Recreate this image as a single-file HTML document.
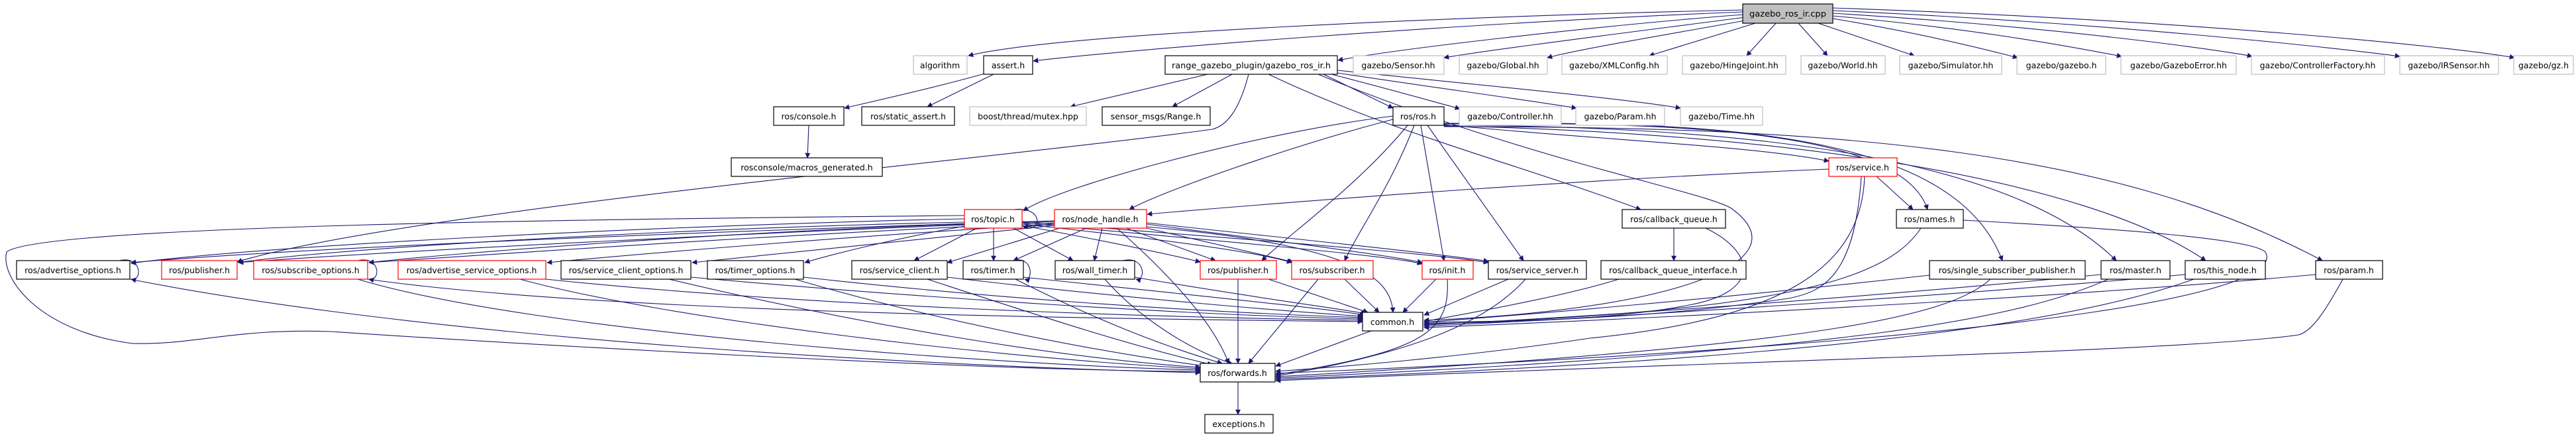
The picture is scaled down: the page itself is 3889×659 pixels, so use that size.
<!DOCTYPE html>
<html><head><meta charset="utf-8"><style>
html,body{margin:0;padding:0;background:#fff;}
svg{display:block;}
text{font-family:"DejaVu Sans","Liberation Sans",sans-serif;font-size:12.5px;fill:#000;}
.e{fill:none;stroke:#191970;stroke-width:1.1;marker-end:url(#a);}
.l{fill:none;stroke:#191970;stroke-width:1.1;}
.k{fill:#fff;stroke:#000;stroke-width:1.2;}
.r{fill:#fff;stroke:#ff0000;stroke-width:1.2;}
.g{fill:#fff;stroke:#bfbfbf;stroke-width:1.2;}
.c{fill:#bfbfbf;stroke:#000;stroke-width:1.2;}
</style></head><body>
<svg width="3889" height="659" viewBox="0 0 3889 659" xmlns="http://www.w3.org/2000/svg">
<defs><marker id="a" viewBox="0 0 10 10" refX="9" refY="5" markerWidth="10" markerHeight="8" markerUnits="userSpaceOnUse" orient="auto"><path d="M0,0 L10,5 L0,10 z" fill="#191970"/></marker></defs>

<path class="e" d="M2631,15 C2200,25 1600,50 1462,84"/>
<path class="e" d="M2631,18 C2200,35 1700,75 1560,92"/>
<path class="e" d="M2631,22 C2400,40 2100,75 2020,91"/>
<path class="e" d="M2635,26 C2450,50 2250,75 2180,87"/>
<path class="e" d="M2640,30 C2500,55 2380,75 2336,87"/>
<path class="e" d="M2650,35 L2490,84"/>
<path class="e" d="M2681,35 L2637,84"/>
<path class="e" d="M2715,35 L2759,84"/>
<path class="e" d="M2745,35 L2890,84"/>
<path class="e" d="M2767,28 C2900,50 3000,75 3046,87"/>
<path class="e" d="M2767,24 C3000,45 3150,75 3203,85"/>
<path class="e" d="M2767,20 C3100,40 3350,75 3400,85"/>
<path class="e" d="M2767,16 C3200,35 3550,75 3623,85"/>
<path class="e" d="M2767,12 C3300,30 3700,70 3796,87"/>

<path class="e" d="M1490,110 C1420,130 1330,150 1275,163"/>
<path class="e" d="M1500,112 L1400,161"/>
<path class="e" d="M1221,189 L1219,238"/>

<path class="e" d="M1823,112 L1616,161"/>
<path class="e" d="M1860,112 L1770,161"/>
<path class="e" d="M1998,112 L2103,163"/>
<path class="e" d="M2010,112 C2100,135 2170,155 2204,164"/>
<path class="e" d="M2019,110 C2150,130 2300,150 2380,163"/>
<path class="e" d="M2019,106 C2200,125 2450,148 2537,163"/>
<path class="e" d="M1885,112 C1870,170 1850,190 1830,195 C1500,240 600,320 358,395"/>
<path class="e" d="M1915,112 C2100,200 2300,250 2477,316"/>
<path class="e" d="M1990,112 C2300,240 2580,290 2615,315 C2730,400 2500,470 2150,483"/>

<path class="e" d="M2103,175 C1900,200 1600,280 1545,318"/>
<path class="e" d="M2103,180 C1950,220 1750,290 1705,316"/>
<path class="e" d="M2125,189 C2050,280 1950,350 1905,393"/>
<path class="e" d="M2135,189 C2100,280 2050,350 2030,393"/>
<path class="e" d="M2145,189 L2180,393"/>
<path class="e" d="M2155,189 L2300,393"/>
<path class="e" d="M2180,188 C2400,210 2650,220 2761,243"/>
<path class="e" d="M2180,186 C2500,185 2870,190 2910,316"/>
<path class="e" d="M2180,187 C2600,180 2950,200 3023,393"/>
<path class="e" d="M2180,189 C2700,190 3050,250 3195,393"/>
<path class="e" d="M2180,190 C2700,200 3150,270 3330,393"/>
<path class="e" d="M2180,191 C2800,190 3200,230 3506,393"/>

<path class="e" d="M2761,255 C2400,270 2000,300 1732,323"/>
<path class="e" d="M2833,266 L2888,316"/>
<path class="e" d="M2810,266 C2800,420 2750,440 2700,450 C2500,480 2300,485 2150,486"/>
<path class="e" d="M2815,266 C2810,400 2700,480 2400,510 C2200,540 2000,555 1926,560"/>

<path class="e" d="M2900,344 C2850,420 2700,470 2150,489"/>
<path class="e" d="M2964,332 C3200,345 3400,360 3420,380 C3450,430 3200,510 1926,563"/>

<path class="e" d="M2527,344 L2527,393"/>
<path class="e" d="M2575,344 C2650,380 2660,440 2550,460 C2450,480 2300,486 2150,488"/>
<path class="e" d="M2444,421 C2350,450 2200,475 2150,485"/>

<path class="l" d="M1530,316 C1575,310 1575,352 1545,343"/>
<path class="e" d="M1456,330 C1000,340 400,370 198,397"/>
<path class="e" d="M1456,335 C1000,345 500,375 360,396"/>
<path class="e" d="M1456,338 C1100,350 700,380 557,396"/>
<path class="e" d="M1456,341 C1350,360 1250,385 1215,396"/>
<path class="e" d="M1475,344 L1380,393"/>
<path class="e" d="M1500,344 L1500,393"/>
<path class="e" d="M1530,344 L1620,393"/>
<path class="e" d="M1543,340 C1650,360 1750,380 1812,395"/>
<path class="e" d="M1543,338 C1750,360 1900,380 1950,396"/>
<path class="e" d="M1543,336 C1800,360 2100,385 2147,398"/>
<path class="e" d="M1543,334 C1800,355 2150,380 2247,396"/>
<path class="e" d="M1456,325 C900,330 60,340 10,380 C0,420 60,500 200,518 C300,520 350,495 500,500 C800,520 1500,560 1812,560"/>

<path class="e" d="M1592,338 L1545,342"/>
<path class="e" d="M1592,333 C1200,345 500,370 198,396"/>
<path class="e" d="M1592,334 C1200,348 600,378 360,396"/>
<path class="e" d="M1592,336 C1200,352 800,380 557,396"/>
<path class="e" d="M1592,338 C1300,355 1000,380 826,396"/>
<path class="e" d="M1592,340 C1400,360 1200,380 1045,396"/>
<path class="e" d="M1600,344 L1430,396"/>
<path class="e" d="M1640,344 L1530,393"/>
<path class="e" d="M1664,344 L1652,393"/>
<path class="e" d="M1700,344 L1835,393"/>
<path class="e" d="M1731,344 L1952,395"/>
<path class="e" d="M1731,338 C1900,360 2100,385 2147,396"/>
<path class="e" d="M1731,336 C1950,360 2150,380 2247,394"/>
<path class="e" d="M1731,342 C2050,370 2100,420 2103,471"/>
<path class="e" d="M1686,344 C1750,400 1830,480 1855,548"/>

<path class="e" d="M180,393 C215,385 215,425 198,421"/>
<path class="e" d="M540,393 C575,385 575,425 557,421"/>
<path class="e" d="M1530,393 C1560,385 1560,425 1547,421"/>
<path class="e" d="M1695,393 C1730,385 1730,425 1715,421"/>

<path class="e" d="M196,421 C700,520 1500,555 1812,562"/>
<path class="e" d="M555,421 C900,470 1600,480 2057,485"/>
<path class="e" d="M540,421 C800,500 1500,550 1812,558"/>
<path class="e" d="M824,421 C1200,460 1700,478 2057,483"/>
<path class="e" d="M785,421 C1000,480 1500,540 1812,556"/>
<path class="e" d="M1043,418 C1400,450 1800,475 2057,481"/>
<path class="e" d="M1010,421 C1300,490 1600,540 1812,554"/>
<path class="e" d="M1213,418 C1500,450 1800,470 2057,479"/>
<path class="e" d="M1200,421 C1400,480 1650,530 1820,552"/>
<path class="e" d="M1430,418 C1700,450 1950,470 2057,477"/>
<path class="e" d="M1400,421 C1550,470 1700,520 1830,550"/>
<path class="e" d="M1545,418 C1800,445 2000,465 2060,475"/>
<path class="e" d="M1533,421 C1650,480 1750,520 1845,548"/>
<path class="e" d="M1713,418 C1900,450 2020,465 2062,473"/>
<path class="e" d="M1668,421 C1720,480 1800,530 1860,548"/>
<path class="e" d="M1915,421 L2065,471"/>
<path class="e" d="M1869,421 L1869,548"/>
<path class="e" d="M2030,421 L2082,471"/>
<path class="e" d="M1990,421 L1885,548"/>
<path class="e" d="M2168,421 L2118,471"/>
<path class="e" d="M2185,421 C2190,500 2150,530 1926,565"/>
<path class="e" d="M2277,421 L2150,475"/>
<path class="e" d="M2303,421 C2250,480 2150,530 1926,567"/>
<path class="e" d="M2913,415 C2600,450 2300,475 2150,486"/>
<path class="e" d="M3005,421 C2950,470 2800,520 1926,568"/>
<path class="e" d="M3172,414 C2800,450 2400,478 2150,490"/>
<path class="e" d="M3183,421 C3050,480 2800,530 1926,570"/>
<path class="e" d="M3299,414 C2900,450 2400,480 2150,492"/>
<path class="e" d="M3312,421 C3150,480 2800,540 1926,572"/>
<path class="e" d="M3496,414 C3100,450 2500,480 2150,494"/>
<path class="e" d="M3537,421 C3510,470 3490,500 3470,505 C3300,530 2600,545 1926,574"/>

<path class="e" d="M2070,499 L1926,552"/>
<path class="e" d="M1869,576 L1869,625"/>

<g>
<rect class="c" x="2631" y="6" width="136" height="29"/><text x="2699" y="25" text-anchor="middle" textLength="116" lengthAdjust="spacingAndGlyphs">gazebo_ros_ir.cpp</text>

<rect class="g" x="1379" y="84" width="81" height="28"/><text x="1419" y="103" text-anchor="middle">algorithm</text>
<rect class="k" x="1485" y="84" width="74" height="28"/><text x="1522" y="103" text-anchor="middle">assert.h</text>
<rect class="k" x="1759" y="84" width="260" height="28"/><text x="1889" y="103" text-anchor="middle" textLength="240" lengthAdjust="spacingAndGlyphs">range_gazebo_plugin/gazebo_ros_ir.h</text>
<rect class="g" x="2043" y="84" width="137" height="28"/><text x="2111" y="103" text-anchor="middle">gazebo/Sensor.hh</text>
<rect class="g" x="2203" y="84" width="133" height="28"/><text x="2269" y="103" text-anchor="middle">gazebo/Global.hh</text>
<rect class="g" x="2358" y="84" width="159" height="28"/><text x="2437" y="103" text-anchor="middle">gazebo/XMLConfig.hh</text>
<rect class="g" x="2540" y="84" width="156" height="28"/><text x="2618" y="103" text-anchor="middle">gazebo/HingeJoint.hh</text>
<rect class="g" x="2719" y="84" width="127" height="28"/><text x="2782" y="103" text-anchor="middle">gazebo/World.hh</text>
<rect class="g" x="2868" y="84" width="154" height="28"/><text x="2945" y="103" text-anchor="middle">gazebo/Simulator.hh</text>
<rect class="g" x="3045" y="84" width="134" height="28"/><text x="3112" y="103" text-anchor="middle">gazebo/gazebo.h</text>
<rect class="g" x="3202" y="84" width="174" height="28"/><text x="3289" y="103" text-anchor="middle">gazebo/GazeboError.hh</text>
<rect class="g" x="3399" y="84" width="201" height="28"/><text x="3499" y="103" text-anchor="middle">gazebo/ControllerFactory.hh</text>
<rect class="g" x="3623" y="84" width="149" height="28"/><text x="3697" y="103" text-anchor="middle">gazebo/IRSensor.hh</text>
<rect class="g" x="3795" y="84" width="90" height="28"/><text x="3840" y="103" text-anchor="middle">gazebo/gz.h</text>

<rect class="k" x="1168" y="161" width="106" height="28"/><text x="1221" y="180" text-anchor="middle">ros/console.h</text>
<rect class="k" x="1301" y="161" width="140" height="28"/><text x="1371" y="180" text-anchor="middle">ros/static_assert.h</text>
<rect class="g" x="1464" y="161" width="176" height="28"/><text x="1552" y="180" text-anchor="middle">boost/thread/mutex.hpp</text>
<rect class="k" x="1664" y="161" width="163" height="28"/><text x="1745" y="180" text-anchor="middle">sensor_msgs/Range.h</text>
<rect class="k" x="2103" y="161" width="77" height="28"/><text x="2141" y="180" text-anchor="middle">ros/ros.h</text>
<rect class="g" x="2203" y="161" width="154" height="28"/><text x="2280" y="180" text-anchor="middle">gazebo/Controller.hh</text>
<rect class="g" x="2379" y="161" width="134" height="28"/><text x="2446" y="180" text-anchor="middle">gazebo/Param.hh</text>
<rect class="g" x="2537" y="161" width="124" height="28"/><text x="2599" y="180" text-anchor="middle">gazebo/Time.hh</text>

<rect class="k" x="1104" y="238" width="228" height="28"/><text x="1218" y="257" text-anchor="middle">rosconsole/macros_generated.h</text>
<rect class="r" x="2761" y="238" width="103" height="28"/><text x="2812" y="257" text-anchor="middle">ros/service.h</text>

<rect class="r" x="1456" y="316" width="87" height="28"/><text x="1499" y="335" text-anchor="middle">ros/topic.h</text>
<rect class="r" x="1592" y="316" width="139" height="28"/><text x="1661" y="335" text-anchor="middle">ros/node_handle.h</text>
<rect class="k" x="2449" y="316" width="156" height="28"/><text x="2527" y="335" text-anchor="middle">ros/callback_queue.h</text>
<rect class="k" x="2863" y="316" width="101" height="28"/><text x="2913" y="335" text-anchor="middle">ros/names.h</text>

<rect class="k" x="25" y="393" width="171" height="28"/><text x="110" y="412" text-anchor="middle">ros/advertise_options.h</text>
<rect class="r" x="244" y="393" width="114" height="28"/><text x="301" y="412" text-anchor="middle">ros/publisher.h</text>
<rect class="r" x="383" y="393" width="172" height="28"/><text x="469" y="412" text-anchor="middle">ros/subscribe_options.h</text>
<rect class="r" x="601" y="393" width="223" height="28"/><text x="712" y="412" text-anchor="middle">ros/advertise_service_options.h</text>
<rect class="k" x="847" y="393" width="196" height="28"/><text x="945" y="412" text-anchor="middle">ros/service_client_options.h</text>
<rect class="k" x="1068" y="393" width="145" height="28"/><text x="1140" y="412" text-anchor="middle">ros/timer_options.h</text>
<rect class="k" x="1286" y="393" width="144" height="28"/><text x="1358" y="412" text-anchor="middle">ros/service_client.h</text>
<rect class="k" x="1454" y="393" width="91" height="28"/><text x="1499" y="412" text-anchor="middle">ros/timer.h</text>
<rect class="k" x="1593" y="393" width="120" height="28"/><text x="1653" y="412" text-anchor="middle">ros/wall_timer.h</text>
<rect class="r" x="1812" y="393" width="115" height="28"/><text x="1869" y="412" text-anchor="middle">ros/publisher.h</text>
<rect class="r" x="1950" y="393" width="123" height="28"/><text x="2011" y="412" text-anchor="middle">ros/subscriber.h</text>
<rect class="r" x="2147" y="393" width="77" height="28"/><text x="2185" y="412" text-anchor="middle">ros/init.h</text>
<rect class="k" x="2247" y="393" width="148" height="28"/><text x="2321" y="412" text-anchor="middle">ros/service_server.h</text>
<rect class="k" x="2417" y="393" width="219" height="28"/><text x="2526" y="412" text-anchor="middle">ros/callback_queue_interface.h</text>
<rect class="k" x="2913" y="393" width="235" height="28"/><text x="3030" y="412" text-anchor="middle">ros/single_subscriber_publisher.h</text>
<rect class="k" x="3172" y="393" width="104" height="28"/><text x="3224" y="412" text-anchor="middle">ros/master.h</text>
<rect class="k" x="3299" y="393" width="121" height="28"/><text x="3359" y="412" text-anchor="middle">ros/this_node.h</text>
<rect class="k" x="3496" y="393" width="101" height="28"/><text x="3546" y="412" text-anchor="middle">ros/param.h</text>

<rect class="k" x="2057" y="471" width="91" height="28"/><text x="2102" y="490" text-anchor="middle">common.h</text>
<rect class="k" x="1812" y="548" width="113" height="28"/><text x="1868" y="567" text-anchor="middle">ros/forwards.h</text>
<rect class="k" x="1819" y="625" width="103" height="28"/><text x="1870" y="644" text-anchor="middle">exceptions.h</text>
</g>
</svg>
</body></html>
